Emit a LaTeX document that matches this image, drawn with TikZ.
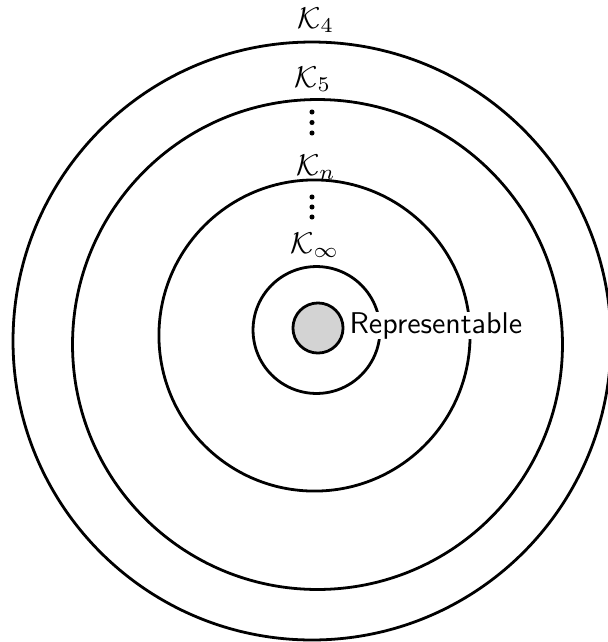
\documentclass[tikz,border=0pt]{standalone}
\usepackage{amsmath,amssymb}
\usetikzlibrary{positioning}
\definecolor{repgray}{HTML}{D3D3D3}

\begin{document}
\begin{tikzpicture}[x=0.3333pt,y=-0.3333pt,
  ring/.style={circle,draw,line width=0.93pt,fill=white,inner sep=0pt},
  lbl/.style={inner sep=0pt,anchor=base},
  vdot/.style={circle,fill,inner sep=0pt,minimum size=1.7pt}]
  \useasboundingbox (0,0) rectangle (607,642);

  % Rings, outside in
  \node[ring,minimum size=199.3pt] (kfour) at (312,341) {};
  \node[ring,minimum size=163.3pt] (kfive) at (317.5,344.5) {};
  \node[ring,minimum size=103.7pt] (kn) at (314.5,335.5) {};
  \node[ring,minimum size=42.3pt] (kinf) at (316.5,330) {};
  \node[ring,minimum size=16.7pt,fill=repgray] (rep) at (318,328) {};

  % Labels above each ring
  \node[lbl] (kfourlbl) at (316,28) {$\mathcal{K}_4$};
  \node[lbl] (kfivelbl) at (313,87) {$\mathcal{K}_5$};
  \node[lbl] (knlbl) at (316,175) {$\mathcal{K}_n$};
  \node[lbl] (kinflbl) at (315,253) {$\mathcal{K}_\infty$};

  % Dots between
  \foreach \y [count=\i] in {112,122.5,133}
    \node[vdot] (dotsa\i) at (312,\y) {};
  \foreach \y [count=\i] in {197,207,217}
    \node[vdot] (dotsb\i) at (312,\y) {};

  % Representable
  \node[font=\sffamily,fill=white,inner xsep=1pt,inner ysep=0pt,anchor=base west] (reptext) at (346,333) {Representable};
\end{tikzpicture}
\end{document}
